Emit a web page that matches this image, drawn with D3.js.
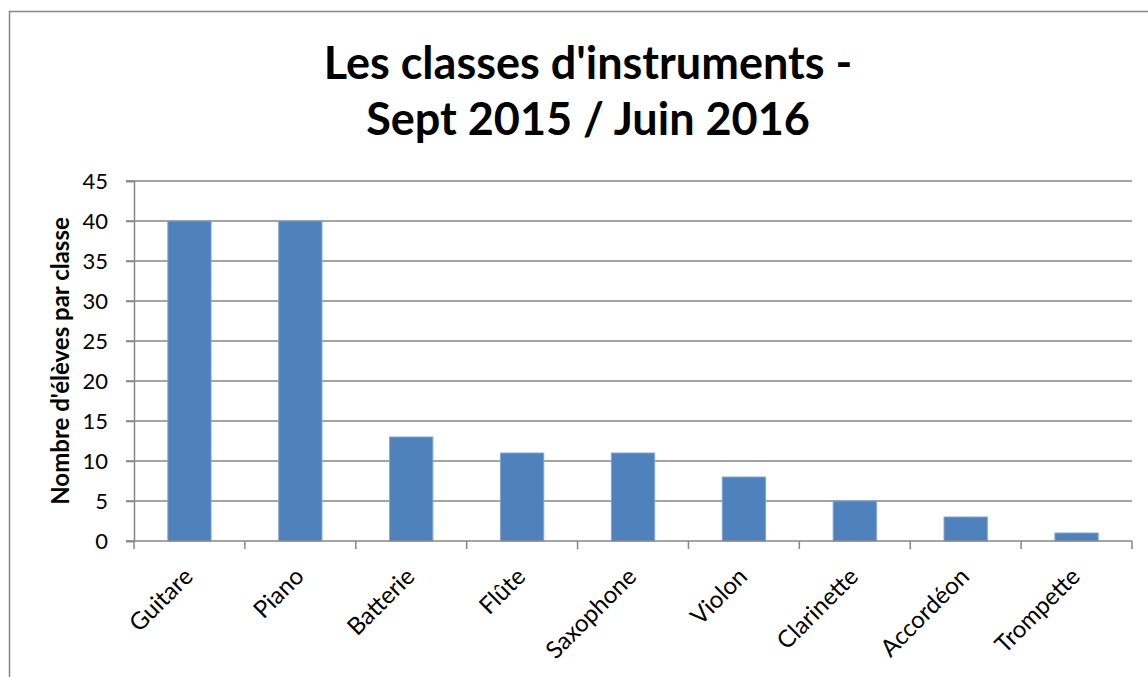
<!DOCTYPE html>
<html>
<head>
<meta charset="utf-8">
<script src="https://cdn.jsdelivr.net/npm/d3@7"></script>
<style>
  body { margin: 0; background: #fff; }
  text { font-family: Lato, "Open Sans", sans-serif; }
</style>
</head>
<body>
<div class="chart"></div>
<script>
// Data
var categories = ["Guitare", "Piano", "Batterie", "Flûte", "Saxophone", "Violon", "Clarinette", "Accordéon", "Trompette"];
var eleves = [40, 40, 13, 11, 11, 8, 5, 3, 1];
var yTicks = [0, 5, 10, 15, 20, 25, 30, 35, 40, 45];
var titleLines = ["Les classes d'instruments -", "Sept 2015 / Juin 2016"];
var yLabel = "Nombre d'élèves par classe";

var W = 1148, H = 677;
var margin = {top: 181, right: 16, bottom: 136, left: 134};
var width = W - margin.left - margin.right,
    height = H - margin.top - margin.bottom;

var svg = d3.select(".chart").append("svg")
    .attr("width", W)
    .attr("height", H);

// outer chart border
svg.append("rect")
    .attr("x", 9.5).attr("y", 11.5)
    .attr("width", W + 20).attr("height", H + 20)
    .attr("fill", "none")
    .attr("stroke", "#868686")
    .attr("stroke-width", 1.5);

var g = svg.append("g")
    .attr("transform", `translate(${margin.left},${margin.top})`);

// band scale for categories (ticks fall between bands)
var x = d3.scaleBand()
    .domain(categories)
    .range([0, width])
    .padding(0);

var barW = x.bandwidth() * 0.39;

var y = d3.scaleLinear()
    .domain([0, 45])
    .range([height, 0]);

// horizontal gridlines
g.append("g")
    .selectAll("line")
    .data(yTicks.filter(d => d > 0))
    .join("line")
    .attr("x1", -8).attr("x2", width)
    .attr("y1", d => y(d)).attr("y2", d => y(d))
    .attr("stroke", "#868686")
    .attr("stroke-width", 1.5);

// bars
g.selectAll("rect.bar")
    .data(eleves)
    .join("rect")
    .attr("class", "bar")
    .attr("x", (d, i) => x(categories[i]) + (x.bandwidth() - barW) / 2)
    .attr("y", d => y(d))
    .attr("width", barW)
    .attr("height", d => height - y(d))
    .attr("fill", "#4F81BD")
    .attr("stroke", "#7FA5D6")
    .attr("stroke-width", 1);

// y axis
var yAxis = g.append("g")
    .call(d3.axisLeft(y).tickValues(yTicks).tickSize(8).tickPadding(18));
yAxis.select(".domain").attr("stroke", "#868686").attr("stroke-width", 1.5);
yAxis.selectAll(".tick line").attr("stroke", "#868686").attr("stroke-width", 1.5);
yAxis.selectAll(".tick text")
    .style("font-size", "22px")
    .attr("fill", "#000");

// x axis: tick marks at band edges
var edges = categories.map(c => x(c)).concat([width]);
var xAxis = g.append("g").attr("transform", `translate(0,${height})`);
xAxis.append("line")
    .attr("x1", -8).attr("x2", width)
    .attr("stroke", "#868686").attr("stroke-width", 1.5);
xAxis.selectAll("line.tk")
    .data(edges)
    .join("line")
    .attr("class", "tk")
    .attr("x1", d => d).attr("x2", d => d)
    .attr("y1", 0).attr("y2", 8)
    .attr("stroke", "#868686").attr("stroke-width", 1.5);

xAxis.selectAll("text")
    .data(categories)
    .join("text")
    .attr("transform", d => `translate(${x(d) + x.bandwidth() / 2 - 1},${31}) rotate(-45)`)
    .attr("text-anchor", "end")
    .attr("dy", "0.35em")
    .style("font-size", "24px")
    .attr("fill", "#000")
    .text(d => d);

// title
svg.append("text")
    .attr("x", 588)
    .attr("text-anchor", "middle")
    .style("font-size", "45px")
    .style("font-weight", "bold")
    .selectAll("tspan")
    .data(titleLines)
    .join("tspan")
    .attr("x", 588)
    .attr("y", (d, i) => 79 + i * 56)
    .text(d => d);

// y axis label
svg.append("text")
    .attr("transform", `translate(69,${margin.top + height / 2}) rotate(-90)`)
    .attr("text-anchor", "middle")
    .style("font-size", "24px")
    .style("font-weight", "bold")
    .text(yLabel);
</script>
</body>
</html>
